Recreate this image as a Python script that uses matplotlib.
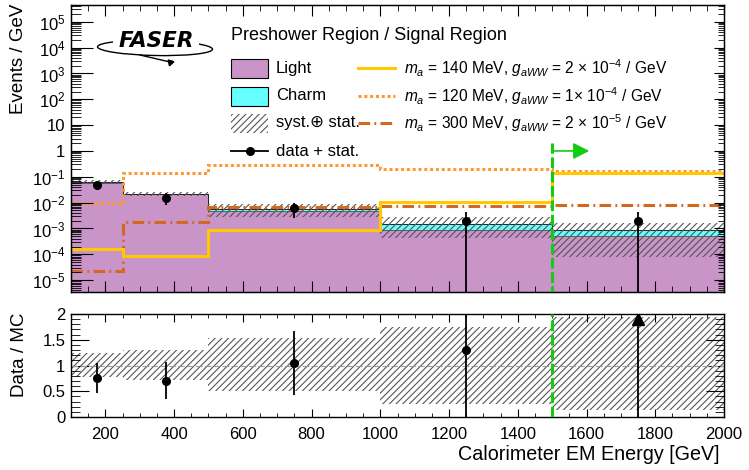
import numpy as np
import matplotlib
matplotlib.use("Agg")
import matplotlib.pyplot as plt
from matplotlib.patches import Rectangle, Ellipse
from matplotlib.lines import Line2D
from matplotlib.ticker import FuncFormatter, FixedLocator, MultipleLocator, NullFormatter
import matplotlib.transforms as mtransforms

plt.rcParams['font.family'] = ['Liberation Sans', 'DejaVu Sans']
plt.rcParams['mathtext.fontset'] = 'custom'
plt.rcParams['mathtext.rm'] = 'Liberation Sans'
plt.rcParams['mathtext.it'] = 'Liberation Sans:italic'
plt.rcParams['mathtext.bf'] = 'Liberation Sans:bold'
plt.rcParams['hatch.linewidth'] = 0.8

# ---- data ----
edges = np.array([100, 250, 500, 1000, 1500, 2000])
centers = np.array([175, 375, 750, 1250, 1750])

light = np.array([0.058, 0.021, 0.0046, 9.1e-4, 5.0e-4])
charm = np.array([0.003, 0.0015, 0.001, 5.4e-4, 3.7e-4])
syst_hi = np.array([0.072, 0.026, 0.0089, 2.7e-3, 1.66e-3])
syst_lo = np.array([0.054, 0.018, 0.0029, 4.2e-4, 8.0e-5])

data = np.array([0.048, 0.0155, 0.006, 0.002, 0.002])
data_hi = np.array([0.059, 0.023, 0.0093, 0.0045, 0.0045])
data_lo = np.array([0.030, 0.0083, 0.0025, 0.0, 0.0])

sig140 = np.array([1.55e-4, 8.7e-5, 8.5e-4, 0.0102, 0.145])
sig120 = np.array([0.0098, 0.145, 0.277, 0.195, 0.17])
sig300 = np.array([2.3e-5, 1.7e-3, 6.5e-3, 7.1e-3, 8.1e-3])

ratio_band_hi = np.array([1.25, 1.31, 1.54, 1.75, 1.95])
ratio_band_lo = np.array([0.77, 0.72, 0.50, 0.26, 0.14])
ratio = np.array([0.76, 0.70, 1.05, 1.30, 2.3])
ratio_hi = np.array([1.04, 1.06, 1.67, 3.0, 3.0])
ratio_lo = np.array([0.47, 0.35, 0.43, 0.0, 0.0])

cut = 1500

c_light = '#c994c7'
c_charm = '#66ffff'
c_140 = '#ffc800'
c_120 = '#ff9933'
c_300 = '#d2691e'
c_green = '#11cc11'
c_hatch = '#555555'

W, H = 749, 470
def fx(px):
    return px / W
def fy(py):
    return 1 - py / H

fig = plt.figure(figsize=(7.49, 4.70), dpi=100)
ax = fig.add_axes([fx(71), fy(292), fx(724) - fx(71), fy(5) - fy(292)])
rax = fig.add_axes([fx(71), fy(417), fx(724) - fx(71), fy(314) - fy(417)])

ymin, ymax = 10**-5.46, 10**5.65
total = light + charm

# ---- top panel ----
ax.set_yscale('log')
ax.stairs(light, edges, baseline=1e-9, fill=True, color=c_light, lw=0)
ax.stairs(total, edges, baseline=light, fill=True, color=c_charm, lw=0)
ax.stairs(light, edges, baseline=None, color='#555555', lw=0.6)
ax.stairs(total, edges, baseline=None, color='#222222', lw=0.7)
ax.stairs(syst_hi, edges, baseline=syst_lo, fill=True, facecolor='none',
          edgecolor=c_hatch, hatch='/////', lw=0)

ax.stairs(sig120, edges, baseline=None, color=c_120, lw=2.2, ls=(0, (1, 0.9)))
ax.stairs(sig300, edges, baseline=None, color=c_300, lw=2.2, ls=(0, (3.8, 1.4, 0.6, 1.4)))
ax.stairs(sig140, edges, baseline=None, color=c_140, lw=2.2)

ax.vlines(centers, np.maximum(data_lo, 1e-9), data_hi, color='black', lw=1.3, zorder=5)
ax.plot(centers, data, 'o', color='black', ms=5.5, zorder=6)

ax.plot([cut, cut], [1e-9, 2], color=c_green, lw=2.2, ls=(0, (3.5, 1.2)), zorder=7)
ax.annotate('', xy=(1608, 1), xytext=(cut, 1),
            arrowprops=dict(arrowstyle='-|>,head_length=0.65,head_width=0.33',
                            color=c_green, lw=1.2, mutation_scale=15,
                            shrinkA=0, shrinkB=0), zorder=7)

ax.set_xlim(100, 2000)
ax.set_ylim(ymin, ymax)

def logfmt(v, pos):
    e = int(round(np.log10(v)))
    if e == 0:
        return '1'
    if e == 1:
        return '10'
    return r'$10^{%d}$' % e

decades = np.arange(-5, 6)
major_y = 10.0 ** decades
minor_y = np.array([m * 10.0 ** d for d in np.arange(-6, 6) for m in range(2, 10)])
minor_y = minor_y[(minor_y > ymin) & (minor_y < ymax)]

ax.yaxis.set_major_locator(FixedLocator(major_y))
ax.yaxis.set_minor_locator(FixedLocator(minor_y))
ax.yaxis.set_major_formatter(FuncFormatter(logfmt))
ax.yaxis.set_minor_formatter(NullFormatter())
ax.xaxis.set_major_locator(MultipleLocator(200))
ax.xaxis.set_minor_locator(MultipleLocator(50))
ax.tick_params(axis='x', which='both', direction='in', top=True, labelbottom=False)
ax.tick_params(axis='x', which='major', length=8)
ax.tick_params(axis='x', which='minor', length=4)
ax.tick_params(axis='y', which='both', direction='in', right=False, labelsize=12, pad=4)
ax.tick_params(axis='y', which='major', length=16)
ax.tick_params(axis='y', which='minor', length=7.5)

ax2 = ax.twinx()
ax2.set_yscale('log')
ax2.set_ylim(ymin, ymax)
ax2.yaxis.set_major_locator(FixedLocator(major_y))
ax2.yaxis.set_minor_locator(FixedLocator(minor_y))
ax2.yaxis.set_major_formatter(NullFormatter())
ax2.yaxis.set_minor_formatter(NullFormatter())
ax2.tick_params(axis='y', which='both', direction='in')
ax2.tick_params(axis='y', which='major', length=7)
ax2.tick_params(axis='y', which='minor', length=4)

# ---- ratio panel ----
rax.stairs(ratio_band_hi, edges, baseline=ratio_band_lo, fill=True, facecolor='none',
           edgecolor=c_hatch, hatch='/////', lw=0)
rax.axhline(1, color='#999999', lw=0.8, ls=(0, (6, 2)))
rax.plot([cut, cut], [0, 2], color=c_green, lw=2.2, ls=(0, (3.5, 1.2)), zorder=7)
rax.vlines(centers, ratio_lo, np.minimum(ratio_hi, 2), color='black', lw=1.3, zorder=5)
inside = ratio <= 2
rax.plot(centers[inside], ratio[inside], 'o', color='black', ms=5.5, zorder=6)
trans = mtransforms.blended_transform_factory(rax.transData, rax.transAxes)
rax.plot(centers[~inside], np.full((~inside).sum(), 0.955), '^', color='black',
         ms=8.5, transform=trans, zorder=6)
rax.set_xlim(100, 2000)
rax.set_ylim(0, 2)
rax.xaxis.set_major_locator(MultipleLocator(200))
rax.xaxis.set_minor_locator(MultipleLocator(50))
rax.yaxis.set_major_locator(FixedLocator([0, 0.5, 1, 1.5, 2]))
rax.yaxis.set_minor_locator(MultipleLocator(0.1))
rax.yaxis.set_major_formatter(FuncFormatter(lambda v, p: '%g' % v))
rax.tick_params(axis='both', which='both', direction='in', top=True, right=True, labelsize=12)
rax.tick_params(axis='x', which='major', length=6, pad=7)
rax.tick_params(axis='x', which='minor', length=3)
rax.tick_params(axis='y', which='major', length=13, pad=4)
rax.tick_params(axis='y', which='minor', length=6.5)

for a in (ax, rax):
    for s in a.spines.values():
        s.set_linewidth(1.0)

fig.text(fx(19), fy(4), 'Events / GeV', rotation=90, ha='center', va='top', fontsize=13.5)
fig.text(fx(19), fy(313), 'Data / MC', rotation=90, ha='center', va='top', fontsize=13.5)
fig.text(fx(719), fy(454), 'Calorimeter EM Energy [GeV]', ha='right', va='center', fontsize=14.2)

# ---- legend ----
fig.text(fx(231), fy(35), 'Preshower Region / Signal Region', ha='left', va='center', fontsize=13)
rows = [68, 96, 123, 151]
box_w, box_h = 37, 19
fig.add_artist(Rectangle((fx(231), fy(rows[0] + box_h / 2)), fx(box_w), box_h / H,
                         transform=fig.transFigure, facecolor=c_light, edgecolor='black', lw=0.8))
fig.add_artist(Rectangle((fx(231), fy(rows[1] + box_h / 2)), fx(box_w), box_h / H,
                         transform=fig.transFigure, facecolor=c_charm, edgecolor='black', lw=0.8))
fig.add_artist(Rectangle((fx(231), fy(rows[2] + box_h / 2)), fx(box_w), box_h / H,
                         transform=fig.transFigure, facecolor='none', edgecolor=c_hatch,
                         hatch='/////', lw=0))
fig.add_artist(Line2D([fx(231), fx(268)], [fy(rows[3]), fy(rows[3])], transform=fig.transFigure,
                      color='black', lw=1.3))
fig.add_artist(Line2D([fx(249.5)], [fy(rows[3])], transform=fig.transFigure, marker='o',
                      color='black', ms=5.5))
for r, lab in zip(rows, ['Light', 'Charm', 'syst.\u2295 stat.', 'data + stat.']):
    fig.text(fx(276), fy(r), lab, ha='left', va='center', fontsize=12)

sig_labels = [r'$m_{a}$ = 140 MeV, $g_{aWW}$ = 2 $\times$ 10$^{-4}$ / GeV',
              r'$m_{a}$ = 120 MeV, $g_{aWW}$ = 1$\times$ 10$^{-4}$ / GeV',
              r'$m_{a}$ = 300 MeV, $g_{aWW}$ = 2 $\times$ 10$^{-5}$ / GeV']
sig_styles = [dict(color=c_140, lw=2.2, ls='-'),
              dict(color=c_120, lw=2.2, ls=(0, (1, 0.9))),
              dict(color=c_300, lw=2.2, ls=(0, (3.8, 1.4, 0.6, 1.4)))]
for r, lab, st in zip(rows[:3], sig_labels, sig_styles):
    fig.add_artist(Line2D([fx(358), fx(395)], [fy(r), fy(r)], transform=fig.transFigure, **st))
    fig.text(fx(404), fy(r), lab, ha='left', va='center', fontsize=11.2)

# ---- FASER logo ----
fig.add_artist(Ellipse((fx(155), fy(48)), fx(115), 15 / H, angle=-2, transform=fig.transFigure,
                       fill=False, edgecolor='black', lw=1.0))
fig.add_artist(Rectangle((fx(113), fy(47)), fx(86), 15 / H, transform=fig.transFigure,
                         facecolor='white', edgecolor='none'))
fig.text(fx(156), fy(41), 'FASER', ha='center', va='center', fontsize=15.5,
         fontweight='heavy', fontstyle='italic', family=['DejaVu Sans'])
fig.add_artist(Line2D([fx(140), fx(170)], [fy(55), fy(62)], transform=fig.transFigure,
                      color='black', lw=1.0))
fig.add_artist(Line2D([fx(170)], [fy(62)], transform=fig.transFigure, marker=(3, 0, -77),
                      color='black', ms=5))

fig.savefig('out.png', dpi=100)
